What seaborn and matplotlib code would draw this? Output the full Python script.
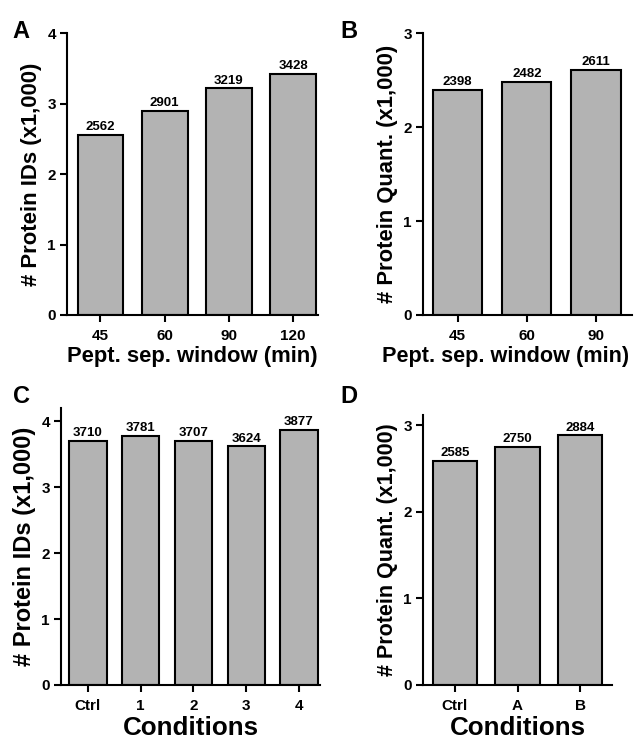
import pandas as pd
import matplotlib.pyplot as plt
import seaborn as sns

# panel A / B: peptide separation window
window_ids = ["45", "60", "90", "120"]
ids_counts = [2562, 2901, 3219, 3428]
window_quant = ["45", "60", "90"]
quant_counts = [2398, 2482, 2611]

# panel C / D: conditions
cond_ids = ["Ctrl", "1", "2", "3", "4"]
cond_ids_counts = [3710, 3781, 3707, 3624, 3877]
cond_quant = ["Ctrl", "A", "B"]
cond_quant_counts = [2585, 2750, 2884]

sns.set_style("ticks")
plt.rcParams["font.family"] = ["Liberation Sans", "DejaVu Sans"]
plt.rcParams["font.weight"] = "bold"
for key in ["text.color", "axes.labelcolor", "xtick.color", "ytick.color", "axes.edgecolor"]:
    plt.rcParams[key] = "black"

fig = plt.figure(figsize=(6.39, 7.41), dpi=100)

panels = [
    # letter, cats, vals, rect, ylim, xlim, ylabel, ylabel size, xlabel, xlabel size, xlabel x
    ("A", window_ids, ids_counts, [0.105, 0.575, 0.393, 0.380], (0, 4), (-0.52, 3.39),
     "# Protein IDs (x1,000)", 15.9, "Pept. sep. window (min)", 15.8, 0.5),
    ("B", window_quant, quant_counts, [0.662, 0.575, 0.327, 0.380], (0, 3), (-0.5, 2.52),
     "# Protein Quant. (x1,000)", 15.8, "Pept. sep. window (min)", 15.6, 0.395),
    ("C", cond_ids, cond_ids_counts, [0.0955, 0.0756, 0.4055, 0.3734], (0, 4.2), (-0.51, 4.4),
     "# Protein IDs (x1,000)", 17, "Conditions", 18.7, 0.5),
    ("D", cond_quant, cond_quant_counts, [0.662, 0.0756, 0.296, 0.364], (0, 3.115), (-0.51, 2.51),
     "# Protein Quant. (x1,000)", 15.5, "Conditions", 18.7, 0.5),
]

letter_pos = [(0.020, 0.973), (0.532, 0.973), (0.020, 0.480), (0.532, 0.480)]

for (letter, cats, vals, rect, ylim, xlim, ylabel, yl_size, xlabel, xl_size, xl_x), (lx, ly) in zip(panels, letter_pos):
    ax = fig.add_axes(rect)
    df = pd.DataFrame({"cat": cats, "val": [v / 1000 for v in vals]})
    sns.barplot(data=df, x="cat", y="val", order=cats, color="#b3b3b3",
                saturation=1, width=0.71, edgecolor="black", linewidth=1.5, ax=ax)
    for bar, v in zip(ax.patches, vals):
        ax.annotate(str(v), (bar.get_x() + bar.get_width() / 2, bar.get_height()),
                    xytext=(0, 1.2), textcoords="offset points",
                    ha="center", va="bottom", fontsize=9.5, fontweight="bold")
    ax.set_ylim(*ylim)
    ax.set_xlim(*xlim)
    ax.set_yticks(range(int(ylim[1]) + 1))
    ax.set_ylabel(ylabel, fontsize=yl_size, fontweight="bold", labelpad=4)
    ax.set_xlabel(xlabel, fontsize=xl_size, fontweight="bold", labelpad=2, x=xl_x)
    ax.tick_params(axis="y", length=5, width=1.5, labelsize=11, pad=3)
    ax.tick_params(axis="x", length=5, width=1.5, labelsize=11, pad=5)
    for lab in ax.get_xticklabels() + ax.get_yticklabels():
        lab.set_fontweight("bold")
    sns.despine(ax=ax)
    ax.spines["left"].set_linewidth(1.5)
    ax.spines["bottom"].set_linewidth(1.5)
    fig.text(lx, ly, letter, fontsize=17, fontweight="bold", va="top")

fig.savefig("out.png", dpi=100)
